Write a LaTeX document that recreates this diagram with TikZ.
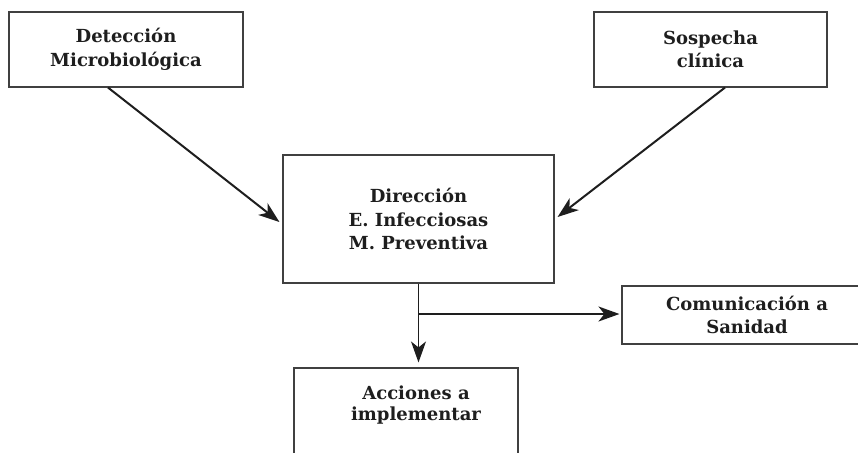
\documentclass[tikz,border=0pt]{standalone}
\usepackage{fontspec}
\setmainfont{DejaVu Serif}
\usetikzlibrary{arrows.meta}
\definecolor{boxline}{HTML}{404040}
\definecolor{ink}{HTML}{1E1E1E}
\tikzset{
  boxnode/.style={draw=boxline, line width=1.1pt, rectangle, inner sep=0pt,
    align=center, font=\bfseries\fontsize{18}{23.5}\selectfont, text=ink},
  txtnode/.style={inner sep=0pt, align=center,
    font=\bfseries\fontsize{18}{21.5}\selectfont, text=ink},
  bigarrow/.style={draw=ink, line width=2pt,
    -{Stealth[length=21pt,width=15pt,inset=6pt]}},
  thinarrow/.style={draw=ink, line width=1.2pt,
    -{Stealth[length=21pt,width=15pt,inset=6pt]}},
  thinline/.style={draw=ink, line width=1.2pt}
}
\begin{document}
\begin{tikzpicture}[x=1pt,y=-1pt]
\useasboundingbox (0,0) rectangle (858,452);
\clip (0,0) rectangle (858,452);
\node[boxnode, minimum width=234pt, minimum height=75pt] (det) at (126,49.5)
  {Detección\\Microbiológica};
\node[boxnode, minimum width=233pt, minimum height=75pt] (sos) at (710.5,49.5)
  {Sospecha\\clínica};
\node[boxnode, minimum width=271pt, minimum height=128pt] (dir) at (418.5,219)
  {Dirección\\E. Infecciosas\\M. Preventiva};
\node[boxnode, minimum width=250pt, minimum height=58pt] (com) at (747,315)
  {Comunicación a\\Sanidad};
\node[boxnode, minimum width=224pt, minimum height=104pt] (acc) at (406,420) {};
\node[txtnode] (acctext) at (416,405) {Acciones a\\implementar};
\coordinate (split) at (418.5,314);
\draw[bigarrow] ([xshift=-18pt]det.south) -- ([xshift=-3pt,yshift=-3pt]dir.west);
\draw[bigarrow] ([xshift=14.5pt]sos.south) -- ([xshift=3pt,yshift=2pt]dir.east);
\draw[thinarrow, shorten >=5pt] (dir.south) -- (dir.south |- acc.north);
\draw[bigarrow, shorten >=2pt] (split) -- (split -| com.west);
\end{tikzpicture}
\end{document}
